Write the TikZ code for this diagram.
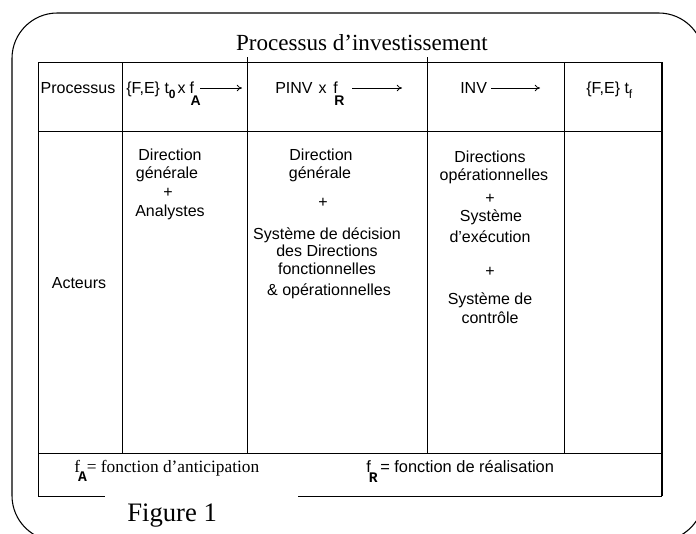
\documentclass[tikz,border=0pt]{standalone}
\usepackage{fontspec}
\setmainfont{Liberation Serif}
\newfontfamily\sansf{Liberation Sans}
\newfontfamily\monof{Liberation Mono}
\usetikzlibrary{arrows.meta}
\begin{document}
\begin{tikzpicture}[x=0.75pt,y=-0.75pt,
  tline/.style={line width=0.6pt},
  frameline/.style={line width=0.8pt},
  arr/.style={line width=0.6pt,-{To[length=4pt,width=5pt]}},
  sans/.style={font=\sansf\fontsize{12}{14}\selectfont, inner sep=0pt, anchor=base},
  serif/.style={inner sep=0pt, anchor=base}]
\useasboundingbox (0,0) rectangle (696,533);
\clip (0,0) rectangle (696,533);
% outer rounded frame
\draw[frameline, rounded corners=34pt] (12,13) rectangle (704,541);
% title
\node[serif, font=\fontsize{17.3}{20}\selectfont] (title) at (362,50) {Processus d’investissement};
% table grid
\draw[tline] (38,62) -- (662,62);
\draw[tline] (38,131) -- (662,131);
\draw[tline] (38,453) -- (662,453);
\draw[tline] (38,496) -- (105,496);
\draw[tline] (298,496) -- (662,496);
\draw[tline] (38,62) -- (38,496);
\draw[line width=1.2pt] (662,62) -- (662,496);
\draw[tline] (122,62) -- (122,453);
\draw[tline] (247,57) -- (247,453);
\draw[tline] (427,57) -- (427,453);
\draw[tline] (564,62) -- (564,453);
% row 1
\node[sans] (proc) at (78,93) {Processus};
\node[sans, anchor=base west] (pa) at (126,93) {\{F,E\} t\raisebox{-4pt}{\fontsize{9}{10}\selectfont\bfseries 0}\hspace{1.5pt}x\hspace{3pt}f\kern-2.5pt\raisebox{-9pt}{\fontsize{10.5}{12}\selectfont\bfseries A}};
\coordinate (pas) at (200,88);
\coordinate (pae) at (242,88);
\draw[arr] (pas) -- (pae);
\node[sans, anchor=base west] (pb) at (275,93) {PINV\hspace{4.5pt}x\hspace{5pt}f\kern-2.5pt\raisebox{-9pt}{\fontsize{10.5}{12}\selectfont\bfseries R}};
\coordinate (pbs) at (352,88);
\coordinate (pbe) at (402,88);
\draw[arr] (pbs) -- (pbe);
\node[sans, anchor=base west] (pc) at (460,93) {INV};
\coordinate (pcs) at (491,88);
\coordinate (pce) at (540,88);
\draw[arr] (pcs) -- (pce);
\node[sans, anchor=base west] (pd) at (586,93) {\{F,E\} t\raisebox{-4pt}{\fontsize{9}{10}\selectfont f}};
% row 2
\node[sans] (act) at (79,288) {Acteurs};
\node[sans] (c2a) at (170,160) {Direction};
\node[sans] (c2b) at (167,178) {générale};
\node[sans] (c2c) at (168,197) {+};
\node[sans] (c2d) at (170,216) {Analystes};
\node[sans] (c3a) at (321,160) {Direction};
\node[sans] (c3b) at (320,178) {générale};
\node[sans] (c3c) at (323,207) {+};
\node[sans] (c3d) at (327,239) {Système de décision};
\node[sans] (c3e) at (327,256) {des Directions};
\node[sans] (c3f) at (327,274) {fonctionnelles};
\node[sans] (c3g) at (329,295) {\& opérationnelles};
\node[sans] (c4a) at (490,162) {Directions};
\node[sans] (c4b) at (494,180) {opérationnelles};
\node[sans] (c4c) at (490,203) {+};
\node[sans] (c4d) at (491,221) {Système};
\node[sans] (c4e) at (490,242) {d’exécution};
\node[sans] (c4f) at (490,276) {+};
\node[sans] (c4g) at (490,304) {Système de};
\node[sans] (c4h) at (490,323) {contrôle};
% footer
\node[serif, anchor=base west, font=\fontsize{13}{15}\selectfont] (fa) at (74,472) {f\kern-1.5pt\raisebox{-7pt}{\monof\bfseries\fontsize{11}{12}\selectfont A}= fonction d’anticipation};
\node[sans, anchor=base west, font=\sansf\fontsize{12.3}{14}\selectfont] (fr) at (366,472) {f\kern-1.5pt\raisebox{-8pt}{\monof\bfseries\fontsize{11}{12}\selectfont R}\hspace{2pt}= fonction de réalisation};
\node[serif, anchor=base west, font=\fontsize{20}{22}\selectfont] (fig) at (127,521) {Figure 1};
\end{tikzpicture}
\end{document}
